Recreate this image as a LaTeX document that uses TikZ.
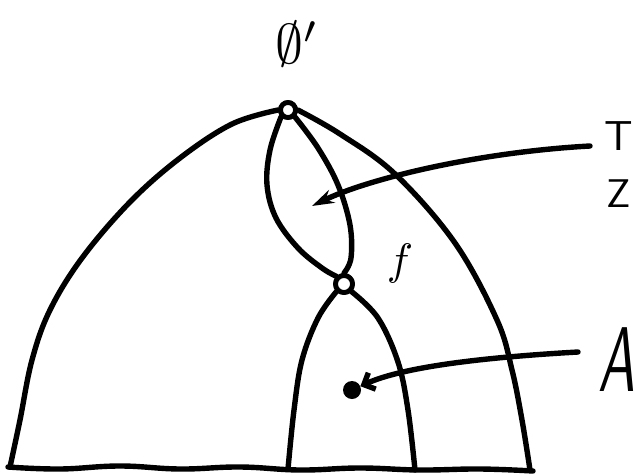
\documentclass[tikz,border=0pt]{standalone}
\usetikzlibrary{arrows.meta}
\begin{document}
\begin{tikzpicture}[x=1pt,y=-1pt,
  ink/.style={line width=5.4pt,line cap=round,line join=round},
  vertex/.style={circle,draw,fill=white,line width=4.8pt,minimum size=15pt,inner sep=0pt},
  blob/.style={circle,fill=black,minimum size=18pt,inner sep=0pt},
  lbl/.style={inner sep=0pt}]
\useasboundingbox (0,0) rectangle (637,474);
% nodes
\node[vertex] (o1) at (288,110) {};
\node[vertex,minimum size=17pt] (o2) at (344,284) {};
\node[blob] (a) at (352,390) {};
% shapes
\draw[ink] plot[smooth,tension=0.6] coordinates {(o1.west) (232,124) (180,158) (130,202) (82,258) (50,310) (32,360) (20,420) (10,467)};
\draw[ink] plot[smooth,tension=0.6] coordinates {(o1.east) (340,134) (395,174) (455,243) (497,320) (512,370) (522,420) (530,470)};
\draw[ink] plot[smooth,tension=0.6] coordinates {(o1.south west) (270,150) (267,185) (276,218) (298,248) (322,268) (o2.north west)};
\draw[ink] plot[smooth,tension=0.6] coordinates {(o1.south east) (318,148) (338,185) (350,225) (351,258) (o2.north)};
\draw[ink] plot[smooth,tension=0.6] coordinates {(o2.south west) (318,318) (302,360) (294,410) (288,469)};
\draw[ink] plot[smooth,tension=0.6] coordinates {(o2.south east) (378,318) (398,362) (408,410) (415,470)};
\draw[ink] plot[smooth,tension=0.7] coordinates {(8,467) (60,469) (120,466) (180,469) (240,467) (300,470) (360,468) (420,470) (480,469) (533,471)};
\node[vertex] at (o1) {};
\node[vertex,minimum size=17pt] at (o2) {};
% arrows
\coordinate (s1) at (590,146);
\coordinate (e1) at (312,206);
\coordinate (s2) at (578,352);
\draw[ink,-{Stealth[length=22pt,width=14pt]}] (s1) .. controls (480,152) and (370,178) .. (e1);
\draw[ink,-{Straight Barb[length=9pt,width=18pt]}] (s2) .. controls (490,357) and (405,366) .. (a);
% labels
\node[lbl,scale=5.6] (phi) at (297,44) {$\emptyset'$};
\node[lbl,scale=4.4] (f) at (400,263) {$f$};
\node[lbl,anchor=base west,scale=4.2] (T) at (604,150) {\sffamily T};
\node[lbl,anchor=base west,scale=4.0] (Z) at (606,207) {\sffamily Z};
\node[lbl,anchor=base west,xscale=5.5,yscale=9.2] (A) at (597,391) {\sffamily\itshape A};
\end{tikzpicture}
\end{document}
